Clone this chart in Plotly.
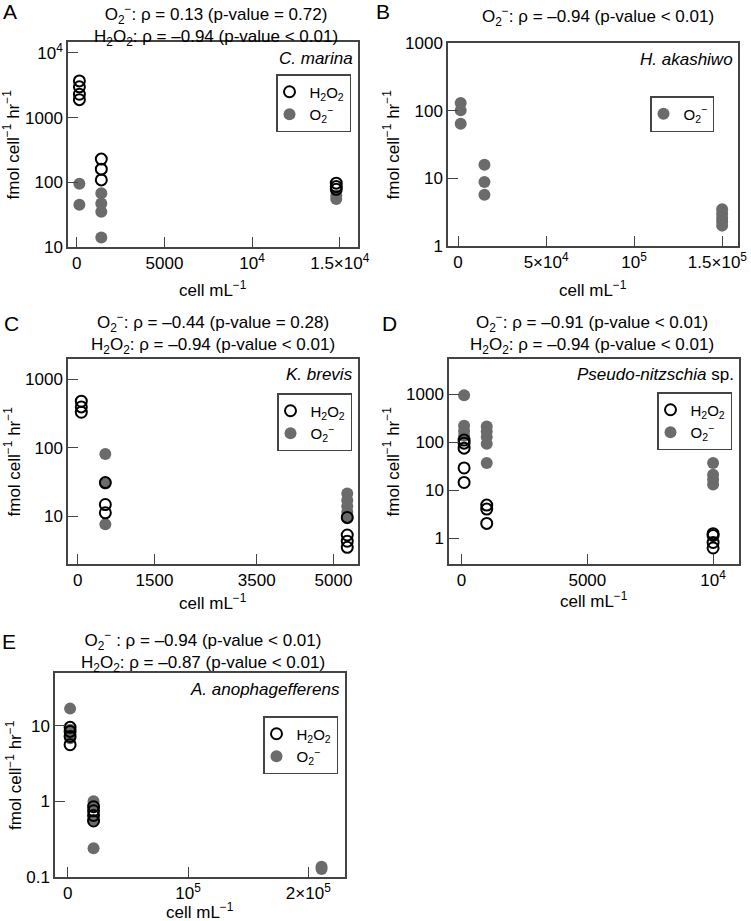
import plotly.graph_objects as go

W, H = 751, 921
FONT = "Liberation Sans, Arial, Helvetica, sans-serif"
GRAY = "#6b6b6b"
AXC = "#444444"

# ---------------- data ----------------
# Panel A  C. marina
A_x_h2o2 = [150, 150, 150, 150, 1400, 1400, 1400, 14800, 14800, 14800]
A_y_h2o2 = [3700, 3000, 2300, 1900, 229, 160, 109, 97, 86, 78]
A_x_o2 = [150, 150, 1400, 1400, 1400, 1400, 14800, 14800]
A_y_o2 = [95, 45, 68, 47, 35, 14, 62, 55]

# Panel B  H. akashiwo
B_x_o2 = [1500, 1500, 1500, 15000, 15000, 15000, 150000, 150000, 150000, 150000, 150000]
B_y_o2 = [130, 101, 64, 15.9, 8.8, 5.7, 3.5, 3.0, 2.6, 2.3, 2.0]

# Panel C  K. brevis
C_x_h2o2 = [70, 70, 70, 540, 540, 540, 5270, 5270, 5270, 5270]
C_y_h2o2 = [481, 397, 332, 31, 14.8, 11.2, 9.6, 5.3, 4.3, 3.5]
C_x_o2 = [540, 540, 540, 5270, 5270, 5270, 5270, 5270]
C_y_o2 = [81, 30, 7.6, 21.5, 17.1, 14, 11.5, 9.3]

# Panel D  Pseudo-nitzschia sp.
D_x_h2o2 = [100, 100, 100, 100, 100, 1000, 1000, 1000, 10000, 10000, 10000, 10000]
D_y_h2o2 = [110, 95, 75, 29, 14.5, 4.9, 4.05, 2.04, 1.25, 1.15, 0.82, 0.63]
D_x_o2 = [100, 100, 100, 100, 1000, 1000, 1000, 1000, 1000, 10000, 10000, 10000, 10000]
D_y_o2 = [940, 220, 170, 135, 211, 166, 127, 92, 37, 37, 21, 16.7, 13.1]

# Panel E  A. anophagefferens
E_x_h2o2 = [2000, 2000, 2000, 2000, 21500, 21500, 21500, 21500]
E_y_h2o2 = [9.5, 8.4, 7.2, 5.6, 0.85, 0.75, 0.65, 0.55]
E_x_o2 = [2000, 2000, 2000, 21500, 21500, 21500, 21500, 211000, 211000]
E_y_o2 = [16.8, 8.8, 6.8, 1.0, 0.9, 0.57, 0.24, 0.137, 0.128]

# tick labels
A_xtickvals = [0, 5000, 10000, 15000]
A_xticktext = ["0", "5000", "10<sup>4</sup>", "1.5×10<sup>4</sup>"]
A_ytickvals = [10, 100, 1000, 10000]
A_yticktext = ["10", "100", "1000", "10<sup>4</sup>"]
B_xtickvals = [0, 50000, 100000, 150000]
B_xticktext = ["0", "5×10<sup>4</sup>", "10<sup>5</sup>", "1.5×10<sup>5</sup>\u00a0\u00a0"]
B_ytickvals = [1, 10, 100, 1000]
B_yticktext = ["1", "10", "100", "1000"]
C_xtickvals = [0, 1500, 3500, 5000]
C_xticktext = ["0", "1500", "3500", "5000"]
C_ytickvals = [10, 100, 1000]
C_yticktext = ["10", "100", "1000"]
D_xtickvals = [0, 5000, 10000]
D_xticktext = ["0", "5000", "10<sup>4</sup>"]
D_ytickvals = [1, 10, 100, 1000]
D_yticktext = ["1", "10", "100", "1000"]
E_xtickvals = [0, 100000, 200000]
E_xticktext = ["0", "10<sup>5</sup>", "2×10<sup>5</sup>"]
E_ytickvals = [0.1, 1, 10]
E_yticktext = ["0.1", "1", "10"]

H2O2 = "H<sub>2</sub>O<sub>2</sub>"
O2 = "O<sub>2</sub><sup>−</sup>"

panels = [
    dict(key="A", species="<i>C. marina</i>", box=(68, 358, 42, 247),
         xr=[-500, 16040], yr=[1, 4.17],
         xt=(A_xtickvals, A_xticktext), yt=(A_ytickvals, A_yticktext),
         h2o2=(A_x_h2o2, A_y_h2o2), o2=(A_x_o2, A_y_o2),
         titles=[O2 + ": ρ = 0.13 (p-value = 0.72)", H2O2 + ": ρ = –0.94 (p-value < 0.01)"],
         title_y=0, title_anchor="top", title_x=216, letter=(10, 11), ytitle_x=12,
         xtitle_y=289, legend=(351, 74)),
    dict(key="B", species="<i>H. akashiwo</i>", box=(448, 738, 43, 246),
         xr=[-5700, 159000], yr=[0, 3],
         xt=(B_xtickvals, B_xticktext), yt=(B_ytickvals, B_yticktext),
         h2o2=None, o2=(B_x_o2, B_y_o2),
         titles=[O2 + ": ρ = –0.94 (p-value < 0.01)"],
         title_y=16, title_anchor="middle", title_x=598, letter=(383, 11), ytitle_x=392,
         xtitle_y=289, legend=(714, 96)),
    dict(key="C", species="<i>K. brevis</i>", box=(68, 358, 359, 564),
         xr=[-190, 5480], yr=[0.3, 3.3],
         xt=(C_xtickvals, C_xticktext), yt=(C_ytickvals, C_yticktext),
         h2o2=(C_x_h2o2, C_y_h2o2), o2=(C_x_o2, C_y_o2),
         titles=[O2 + ": ρ = –0.44 (p-value = 0.28)", H2O2 + ": ρ = –0.94 (p-value < 0.01)"],
         title_y=334, title_anchor="middle", title_x=213, letter=(11, 324), ytitle_x=12,
         xtitle_y=602, legend=(352, 393)),
    dict(key="D", species="<i>Pseudo-nitzschia</i> sp.", box=(449, 739, 359, 564),
         xr=[-500, 11030], yr=[-0.534, 3.728],
         xt=(D_xtickvals, D_xticktext), yt=(D_ytickvals, D_yticktext),
         h2o2=(D_x_h2o2, D_y_h2o2), o2=(D_x_o2, D_y_o2),
         titles=[O2 + ": ρ = –0.91 (p-value < 0.01)", H2O2 + ": ρ = –0.94 (p-value < 0.01)"],
         title_y=334, title_anchor="middle", title_x=592, letter=(389, 324), ytitle_x=391,
         xtitle_y=600, legend=(732, 392)),
    dict(key="E", species="<i>A. anophagefferens</i>", box=(55, 345, 673, 877),
         xr=[-10550, 230500], yr=[-1, 1.696],
         xt=(E_xtickvals, E_xticktext), yt=(E_ytickvals, E_yticktext),
         h2o2=(E_x_h2o2, E_y_h2o2), o2=(E_x_o2, E_y_o2),
         titles=[O2 + " : ρ = –0.94 (p-value < 0.01)", H2O2 + ": ρ = –0.87 (p-value < 0.01)"],
         title_y=651, title_anchor="middle", title_x=203, letter=(9, 641), ytitle_x=14,
         xtitle_y=911, legend=(338, 716)),
]


def px(x):
    return x / W


def py(y):
    return 1 - y / H


fig = go.Figure()
layout = dict(width=W, height=H, autosize=False,
              margin=dict(l=0, r=0, t=0, b=0, pad=0, autoexpand=False),
              paper_bgcolor="white", plot_bgcolor="white",
              font=dict(family=FONT, size=17, color="black"),
              showlegend=True)
annotations = []

for i, p in enumerate(panels):
    n = "" if i == 0 else str(i + 1)
    xa, ya = "x" + n, "y" + n
    leg = "legend" + n
    x0, x1, y0, y1 = p["box"]
    layout["xaxis" + n] = dict(
        domain=[px(x0), px(x1)], range=p["xr"], anchor=ya, automargin=False,
        tickvals=p["xt"][0], ticktext=p["xt"][1], ticklabeloverflow="allow",
        ticks="inside", ticklen=10, tickwidth=1, tickcolor=AXC,
        showline=True, linecolor=AXC, linewidth=1.5, mirror=True,
        showgrid=False, zeroline=False, tickfont=dict(size=17))
    layout["yaxis" + n] = dict(
        domain=[py(y1), py(y0)], range=p["yr"], type="log", anchor=xa, automargin=False,
        tickvals=p["yt"][0], ticktext=p["yt"][1], ticklabeloverflow="allow",
        ticks="inside", ticklen=10, tickwidth=1, tickcolor=AXC,
        showline=True, linecolor=AXC, linewidth=1.5, mirror=True,
        showgrid=False, zeroline=False, tickfont=dict(size=17))

    # O2- first so that H2O2 open circles are drawn above
    fig.add_trace(go.Scatter(
        x=p["o2"][0], y=p["o2"][1], mode="markers", name=O2,
        xaxis=xa, yaxis=ya, legend=leg, legendrank=2,
        marker=dict(symbol="circle", size=12, color=GRAY, line=dict(width=0))))
    if p["h2o2"] is not None:
        fig.add_trace(go.Scatter(
            x=p["h2o2"][0], y=p["h2o2"][1], mode="markers", name=H2O2,
            xaxis=xa, yaxis=ya, legend=leg, legendrank=1,
            marker=dict(symbol="circle-open", size=11, color="black",
                        line=dict(width=2, color="black"))))

    lx, ly = p["legend"]
    layout[leg] = dict(x=px(lx), y=py(ly), xanchor="right", yanchor="top",
                       xref="paper", yref="paper",
                       bordercolor=AXC, borderwidth=1.5, bgcolor="white",
                       font=dict(size=15), itemwidth=30, tracegroupgap=0,
                       traceorder="normal", indentation=-8)

    # species name
    annotations.append(dict(text=p["species"], xref="paper", yref="paper",
                            x=px(x1 - 3), y=py(y0 + 16), xanchor="right", yanchor="middle",
                            showarrow=False, font=dict(size=17)))
    # titles (two lines in one text)
    annotations.append(dict(text="<br>".join(p["titles"]), xref="paper", yref="paper",
                            x=px(p["title_x"]), y=py(p["title_y"]), xanchor="center",
                            yanchor=p["title_anchor"], align="center",
                            showarrow=False, font=dict(size=17)))
    # panel letter
    annotations.append(dict(text=p["key"], xref="paper", yref="paper",
                            x=px(p["letter"][0]), y=py(p["letter"][1]),
                            xanchor="center", yanchor="middle",
                            showarrow=False, font=dict(size=21)))
    # axis titles
    annotations.append(dict(text="cell mL<sup>−1</sup>", xref="paper", yref="paper",
                            x=px((x0 + x1) / 2), y=py(p["xtitle_y"]),
                            xanchor="center", yanchor="middle",
                            showarrow=False, font=dict(size=17)))
    annotations.append(dict(text="fmol cell<sup>−1</sup> hr<sup>−1</sup>", xref="paper", yref="paper",
                            x=px(p["ytitle_x"]), y=py((y0 + y1) / 2),
                            xanchor="center", yanchor="middle", textangle=-90,
                            showarrow=False, font=dict(size=17)))

layout["annotations"] = annotations
fig.update_layout(**layout)
fig.write_html("out.html",
               config={"displayModeBar": False, "responsive": False},
               post_script="document.body.style.margin='0px';document.body.style.overflow='hidden';")
